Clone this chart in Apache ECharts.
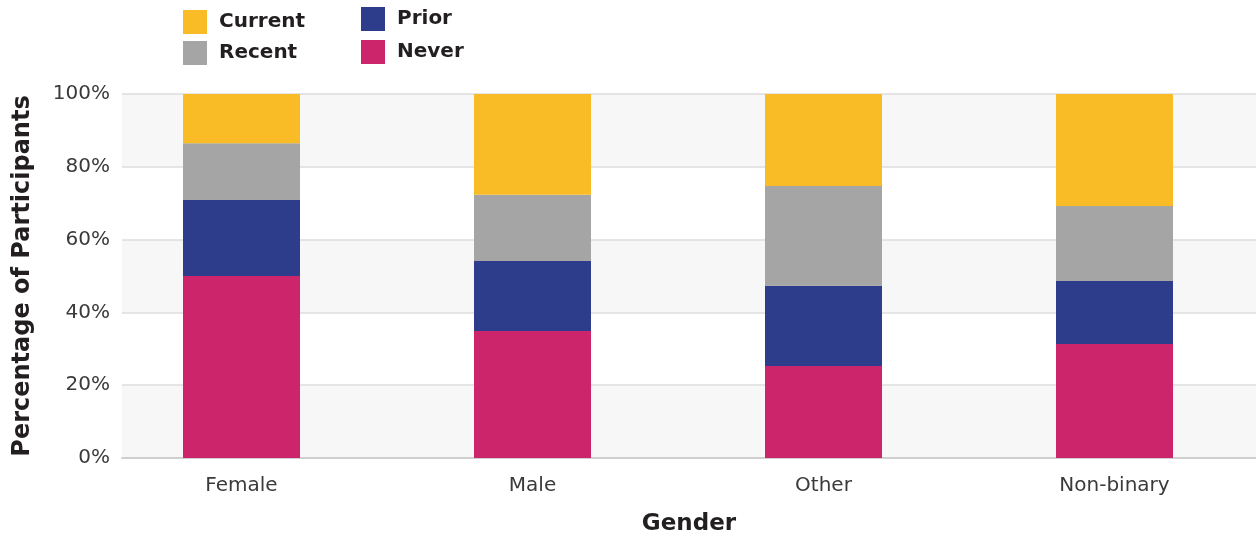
<!DOCTYPE html>
<html>
<head>
<meta charset="utf-8">
<script src="https://cdn.jsdelivr.net/npm/echarts@6/dist/echarts.min.js"></script>
<style>
  html, body { margin: 0; padding: 0; background: #fff; }
  #chart { width: 1256px; height: 538px; }
</style>
</head>
<body>
<div id="chart"></div>
<script>
const genders = ['Female', 'Male', 'Other', 'Non-binary']
// share of participants per gender (%), stacked bottom to top
const never = [50.0, 34.9, 25.3, 31.3]
const prior = [20.9, 19.2, 22.0, 17.3]
const recent = [15.6, 18.2, 27.4, 20.6]
const current = [13.5, 27.7, 25.3, 30.8]
const yTicks = [0, 20, 40, 60, 80, 100]

const colors = {
    Current: '#F9BC26',
    Recent: '#A5A5A5',
    Prior: '#2E3C8C',
    Never: '#CD256C'
}

const heavy = { fontFamily: 'DejaVu Sans', fontWeight: 'bold', color: '#231F20' }
const light = { fontFamily: 'DejaVu Sans', fontWeight: 'normal', color: '#3a3a3a', fontSize: 20 }

const chartDom = document.getElementById('chart')
const myChart = echarts.init(chartDom)

const makeBar = (name, data) => ({
    name,
    type: 'bar',
    stack: 'total',
    xAxisIndex: 1,
    yAxisIndex: 1,
    barWidth: 117,
    itemStyle: { color: colors[name] },
    data
})

const legendText = Object.assign({ fontSize: 20, padding: [2, 0, 0, 7] }, heavy)

const option = {
    animation: false,
    legend: [
        {
            data: ['Current', 'Recent'],
            orient: 'vertical',
            left: 178, top: 5,
            itemWidth: 24, itemHeight: 24, itemGap: 7,
            icon: 'rect',
            textStyle: legendText
        },
        {
            data: ['Prior', 'Never'],
            orient: 'vertical',
            left: 356, top: 2,
            itemWidth: 24, itemHeight: 24, itemGap: 9,
            icon: 'rect',
            textStyle: legendText
        }
    ],
    grid: [
        { left: 122, right: 0, top: 94, bottom: 80, outerBoundsMode: 'none' },
        { left: 96, right: -4, top: 94, bottom: 80, outerBoundsMode: 'none' }
    ],
    xAxis: [
        {
            type: 'value',
            gridIndex: 0,
            min: 0, max: 1,
            axisLabel: { show: false },
            axisTick: { show: false },
            splitLine: { show: false },
            axisLine: { show: true, lineStyle: { color: '#cfcfcf', width: 2 } },
            name: 'Gender',
            nameLocation: 'middle',
            nameGap: 55,
            nameTextStyle: Object.assign({ fontSize: 23 }, heavy)
        },
        {
            type: 'category',
            gridIndex: 1,
            data: genders,
            axisLine: { show: false },
            axisTick: { show: false },
            axisLabel: Object.assign({ margin: 18 }, light)
        }
    ],
    yAxis: [
        {
            type: 'value',
            gridIndex: 0,
            min: yTicks[0], max: yTicks[yTicks.length - 1], interval: 20,
            axisLine: { show: false },
            axisTick: { show: false },
            axisLabel: Object.assign({ formatter: '{value}%', margin: 12 }, light),
            splitLine: { lineStyle: { color: '#dddddd', width: 1.5 } },
            splitArea: { show: true, areaStyle: { color: ['#f7f7f7', '#ffffff'] } },
            name: 'Percentage of Participants',
            nameLocation: 'middle',
            nameGap: 87,
            nameTextStyle: Object.assign({ fontSize: 24 }, heavy)
        },
        {
            type: 'value',
            gridIndex: 1,
            min: 0, max: 100,
            show: false
        }
    ],
    series: [
        makeBar('Never', never),
        makeBar('Prior', prior),
        makeBar('Recent', recent),
        makeBar('Current', current)
    ]
}
myChart.setOption(option)
</script>
</body>
</html>
